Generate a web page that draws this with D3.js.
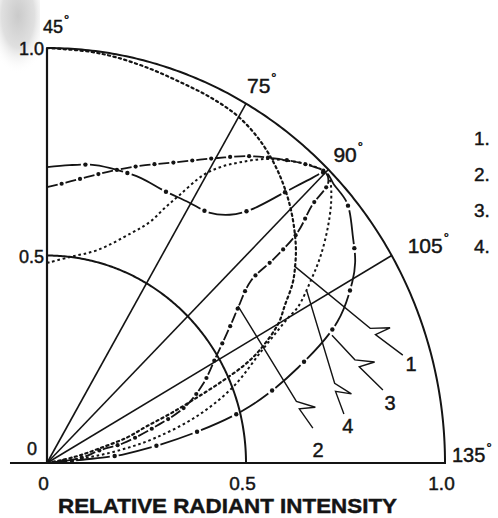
<!DOCTYPE html>
<html><head><meta charset="utf-8">
<script src="https://cdn.jsdelivr.net/npm/d3@7"></script>
<style>
html,body{margin:0;padding:0;background:#fff;}
svg{display:block;}
text{font-family:"Liberation Sans",Arial,Helvetica,sans-serif;fill:#141414;stroke:#141414;stroke-width:0.45px;}
</style></head><body>
<svg id="chart" width="498" height="518"></svg>
<script>
// ---------------- data ----------------
const angleTicks = [45, 75, 90, 105, 135];
const spokeAngles = [75, 90, 105];
const arcRadii = [0.5, 1.0];
const xTickValues = [0, 0.5, 1.0];
const yTickValues = [0.5, 1.0];
const legendNames = ["1.", "2.", "3.", "4."];
const axisTitle = "RELATIVE RADIANT INTENSITY";

const angles1 = [45, 51, 55, 60, 65, 70, 75, 80, 85, 90, 95, 98, 100, 102.5, 105, 108, 109.5, 111, 112.5, 114, 115.5, 118, 120, 123, 125];
const intensity1 = [1.0, 0.997, 0.993, 0.985, 0.977, 0.972, 0.963, 0.941, 0.908, 0.866, 0.816, 0.780, 0.753, 0.709, 0.671, 0.600, 0.551, 0.476, 0.397, 0.332, 0.267, 0.210, 0.138, 0.072, 0];

const angles2 = [45, 49, 54, 59, 64, 69, 74.5, 79.5, 83.5, 87, 90, 91.3, 92, 93.6, 94.2, 94.4, 97, 99, 104, 109, 113.7, 117, 121, 122, 127, 130];
const intensity2 = [0.665, 0.677, 0.700, 0.728, 0.759, 0.793, 0.843, 0.897, 0.936, 0.969, 0.99, 0.977, 0.911, 0.838, 0.757, 0.675, 0.610, 0.573, 0.495, 0.437, 0.372, 0.290, 0.197, 0.137, 0.084, 0];

const angles3 = [45, 49.5, 54.5, 59, 64, 69, 74.5, 79, 82.5, 85, 87.5, 89, 90, 92, 95.3, 99.8, 103, 105.4, 110, 115, 120, 124, 128.7, 130, 132];
const intensity3 = [0.713, 0.720, 0.728, 0.728, 0.726, 0.719, 0.722, 0.728, 0.754, 0.797, 0.885, 0.950, 0.99, 0.985, 0.980, 0.941, 0.913, 0.882, 0.805, 0.671, 0.528, 0.373, 0.197, 0.09, 0];

const angles4 = [45, 51.7, 58.8, 66, 69, 70.7, 72.3, 74.5, 76.4, 78.8, 81.8, 85, 87.6, 90, 91.2, 93.4, 96, 99, 101.2, 104.2, 105, 108.3, 113.6, 118.3, 122.5, 125.4, 127.8, 130];
const intensity4 = [0.482, 0.500, 0.528, 0.594, 0.636, 0.682, 0.727, 0.797, 0.835, 0.872, 0.915, 0.950, 0.976, 0.99, 0.985, 0.955, 0.909, 0.850, 0.801, 0.734, 0.700, 0.605, 0.502, 0.394, 0.278, 0.186, 0.096, 0];

// callouts (in intensity units, x = horizontal, y = vertical)
const calloutLabels = ["1", "2", "3", "4"];
const calloutStartX = [0.621, 0.480, 0.716, 0.653];
const calloutStartY = [0.475, 0.378, 0.308, 0.414];
const calloutEndX = [0.894, 0.668, 0.844, 0.746];
const calloutEndY = [0.260, 0.084, 0.176, 0.118];
const calloutTextX = [0.915, 0.681, 0.862, 0.756];
const calloutTextY = [0.222, 0.0145, 0.128, 0.072];

// ---------------- drawing ----------------
const svg = d3.select("#chart");
const x = d3.scaleLinear().domain([0, 1]).range([47, 445]);
const y = d3.scaleLinear().domain([0, 1]).range([463, 48]);
const phi = a => (a - 45) * Math.PI / 180;
const PX = (a, r) => x(r * Math.sin(phi(a)));
const PY = (a, r) => y(r * Math.cos(phi(a)));

// scan shading top-left
const defs = svg.append("defs");
const g1 = defs.append("radialGradient").attr("id", "shade").attr("cx", 0.45).attr("cy", 0.2).attr("r", 0.75);
g1.append("stop").attr("offset", 0).attr("stop-color", "#bdbdbd");
g1.append("stop").attr("offset", 0.55).attr("stop-color", "#d8d8d8");
g1.append("stop").attr("offset", 1).attr("stop-color", "#ffffff").attr("stop-opacity", 0);
svg.append("rect").attr("x", 0).attr("y", 0).attr("width", 40).attr("height", 78)
  .attr("fill", "url(#shade)").attr("opacity", 0.8);

const ink = "#141414";
const polarLine = d3.line().x(d => PX(d[0], d[1])).y(d => PY(d[0], d[1]));

// arcs
arcRadii.forEach(r => {
  svg.append("path").datum(d3.range(45, 135.01, 0.5).map(a => [a, r]))
    .attr("d", polarLine).attr("fill", "none").attr("stroke", ink).attr("stroke-width", 2);
});
// spokes
spokeAngles.forEach(a => {
  svg.append("line").attr("x1", PX(a, 0)).attr("y1", PY(a, 0)).attr("x2", PX(a, 1)).attr("y2", PY(a, 1))
    .attr("stroke", ink).attr("stroke-width", 1.6);
});
// axes lines
svg.append("line").attr("x1", x(0)).attr("y1", y(0)).attr("x2", x(0)).attr("y2", y(1))
  .attr("stroke", ink).attr("stroke-width", 2.2);
svg.append("line").attr("x1", x(-0.093)).attr("y1", y(0)).attr("x2", x(1) + 1).attr("y2", y(0))
  .attr("stroke", ink).attr("stroke-width", 2.2);

// bottom axis labels
const xAxis = d3.axisBottom(x).tickValues(xTickValues).tickSize(0).tickPadding(14)
  .tickFormat(d => d === 0 ? "0" : d3.format(".1f")(d));
const gx = svg.append("g").attr("transform", `translate(0,${y(0)})`).call(xAxis);
gx.select(".domain").remove();
gx.selectAll("text").attr("font-size", 19).attr("fill", ink).attr("dx", -4)
  .style("font-family", '"Liberation Sans",Arial,sans-serif');

// left labels
yTickValues.forEach(v => {
  svg.append("text").attr("x", x(0) - 3).attr("y", y(v) + 7).attr("text-anchor", "end")
    .attr("font-size", 18).text(d3.format(".1f")(v));
});
svg.append("text").attr("x", x(0) - 10).attr("y", y(0) - 8).attr("text-anchor", "end")
  .attr("font-size", 18).text("0");

// angle labels
const angleOffsets = {45: [-4, -15, 18], 75: [1, -11, 21], 90: [5, -8, 21], 105: [16, -3, 21], 135: [7, -1, 20]};
angleTicks.forEach(a => {
  const o = angleOffsets[a];
  const t = svg.append("text").attr("x", PX(a, 1) + o[0]).attr("y", PY(a, 1) + o[1]).attr("font-size", o[2]);
  t.append("tspan").text(a);
  t.append("tspan").attr("font-size", 13).attr("dx", 1).attr("dy", -o[2] * 0.5).text("°");
});

// title
svg.append("text").attr("x", 58).attr("y", 513).attr("font-size", 21).attr("font-weight", "bold")
  .attr("textLength", 339).attr("lengthAdjust", "spacingAndGlyphs").text(axisTitle);

// legend (numbers only)
legendNames.forEach((n, i) => {
  svg.append("text").attr("x", 474).attr("y", 145 + i * 36).attr("font-size", 19).text(n);
});

// curves
const series = [
  {a: angles1, r: intensity1},
  {a: angles2, r: intensity2},
  {a: angles3, r: intensity3},
  {a: angles4, r: intensity4}
];
const styles = [
  {dash: [2.2, 3.4], width: 2.2, cap: "round", dot: null},
  {dash: [11, 8], width: 1.8, cap: "butt", dot: 2.1},
  {dash: [34, 9], width: 1.8, cap: "butt", dot: 2.2},
  {dash: [2.6, 2.8], width: 2.0, cap: "butt", dot: null}
];
const curveLine = d3.line().x(d => PX(d[0], d[1])).y(d => PY(d[0], d[1]))
  .curve(d3.curveCatmullRom.alpha(0.5));
const curvesG = svg.append("g");
series.forEach((s, i) => {
  const pts = s.a.map((a, k) => [a, s.r[k]]);
  const st = styles[i];
  const p = curvesG.append("path").datum(pts).attr("d", curveLine)
    .attr("fill", "none").attr("stroke", ink).attr("stroke-width", st.width)
    .attr("stroke-linecap", st.cap).attr("stroke-dasharray", st.dash.join(","));
  if (st.dot) {
    const node = p.node();
    const L = node.getTotalLength();
    const period = st.dash[0] + st.dash[1];
    for (let d = st.dash[0] + st.dash[1] / 2; d < L - 2; d += period) {
      const q = node.getPointAtLength(d);
      curvesG.append("circle").attr("cx", q.x).attr("cy", q.y).attr("r", st.dot).attr("fill", ink);
    }
  }
});

// callouts with zigzag
const zigFrac = [0.7, 0.78, 0.45, 0.75];
calloutLabels.forEach((lab, i) => {
  const S = [x(calloutStartX[i]), y(calloutStartY[i])];
  const E = [x(calloutEndX[i]), y(calloutEndY[i])];
  const len = Math.hypot(E[0] - S[0], E[1] - S[1]);
  const d = [(E[0] - S[0]) / len, (E[1] - S[1]) / len];
  const n = [d[1], -d[0]];
  const t = zigFrac[i];
  const A = [S[0] + t * (E[0] - S[0]), S[1] + t * (E[1] - S[1])];
  const B = [A[0] + 15 * d[0] + 13 * n[0], A[1] + 15 * d[1] + 13 * n[1]];
  const C = [A[0] + 8 * d[0] - 1.5 * n[0], A[1] + 8 * d[1] - 1.5 * n[1]];
  svg.append("path").attr("d", d3.line()([S, A, B, C, E]))
    .attr("fill", "none").attr("stroke", ink).attr("stroke-width", 1.4).attr("stroke-linejoin", "miter");
  svg.append("text").attr("x", x(calloutTextX[i])).attr("y", y(calloutTextY[i]))
    .attr("text-anchor", "middle").attr("font-size", 20).text(lab);
});
</script>
</body></html>
